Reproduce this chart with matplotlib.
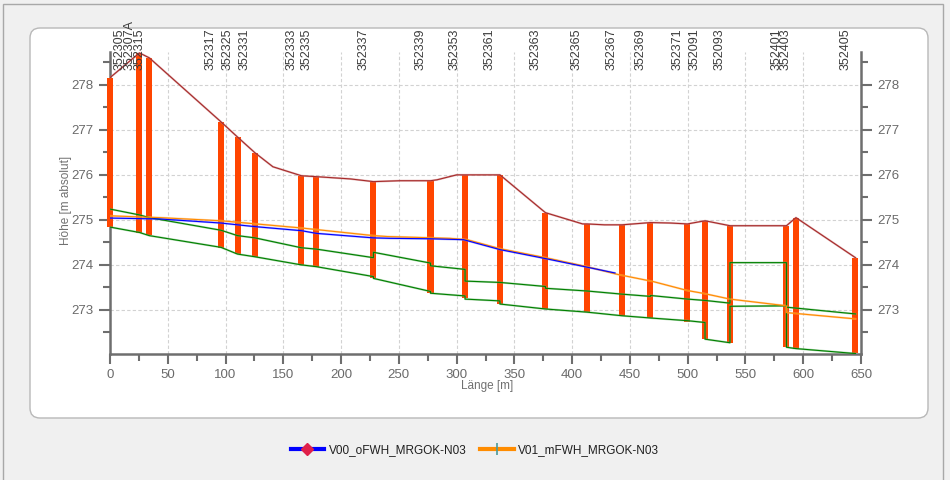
import matplotlib
matplotlib.use("Agg")
import matplotlib.pyplot as plt
import matplotlib.transforms as mtransforms
from matplotlib.patches import FancyBboxPatch, Rectangle
from matplotlib.lines import Line2D
from matplotlib.ticker import MultipleLocator

plt.rcParams['font.family'] = ['Liberation Sans', 'DejaVu Sans']

# shafts (Schächte): station [m], cover level, bottom level
shaft_names = ['352305', '352307A', '352315', '352317', '352325', '352331', '352333',
               '352335', '352337', '352339', '352353', '352361', '352363', '352365',
               '352367', '352369', '352371', '352091', '352093', '352401', '352403',
               '352405']
shaft_x = [0, 25.5, 34, 96, 110.4, 125.5, 165.7, 178.7, 228, 277.4, 307.3, 337.5,
           376.9, 412.8, 443.1, 467.8, 499.8, 515, 536.6, 585.5, 593.7, 645.2]
shaft_top = [278.16, 278.71, 278.6, 277.18, 276.84, 276.49, 275.98, 275.96, 275.85,
             275.87, 276.0, 276.0, 275.16, 274.91, 274.89, 274.93, 274.91, 274.98,
             274.87, 274.87, 275.04, 274.16]
shaft_bot = [274.84, 274.71, 274.67, 274.38, 274.24, 274.18, 274.0, 273.96, 273.71,
             273.38, 273.27, 273.13, 273.02, 272.96, 272.87, 272.82, 272.73, 272.36,
             272.27, 272.18, 272.13, 272.04]

# terrain
ground_x = [0, 25.5, 34, 96, 110.4, 125.5, 141, 165.7, 178.7, 208, 228, 251, 277.4,
            283, 300, 337.5, 376.9, 409, 412.8, 428, 443.1, 467.8, 485, 499.8, 515,
            536.6, 585.5, 593.7, 645.2]
ground_y = [278.16, 278.71, 278.6, 277.18, 276.84, 276.49, 276.18, 275.98, 275.96,
            275.91, 275.85, 275.87, 275.87, 275.89, 276.0, 276.0, 275.16, 274.91,
            274.91, 274.89, 274.89, 274.94, 274.93, 274.91, 274.98, 274.87, 274.87,
            275.05, 274.16]

# pipe crown / invert
crown_x = [0, 25.5, 34, 96, 110.4, 125.5, 165.7, 178.7, 228, 228, 277.4, 277.4, 307.3,
           307.3, 337.5, 376.9, 376.9, 412.8, 443.1, 467.8, 467.8, 499.8, 515, 536.6,
           536.6, 585.5, 585.5, 593.7, 645.2]
crown_y = [275.24, 275.11, 275.05, 274.77, 274.65, 274.6, 274.38, 274.35, 274.16,
           274.28, 274.04, 273.98, 273.9, 273.64, 273.61, 273.52, 273.48, 273.42,
           273.35, 273.3, 273.32, 273.24, 273.21, 273.15, 274.05, 274.05, 273.06,
           273.04, 272.91]
invert_x = [0, 25.5, 34, 96, 110.4, 125.5, 165.7, 178.7, 228, 228, 277.4, 277.4, 307.3,
            307.3, 337.5, 337.5, 376.9, 412.8, 443.1, 467.8, 499.8, 515, 515, 536.6,
            536.6, 585.5, 585.5, 593.7, 645.2]
invert_y = [274.84, 274.72, 274.65, 274.39, 274.24, 274.18, 274.0, 273.96, 273.74,
            273.7, 273.41, 273.37, 273.31, 273.24, 273.2, 273.13, 273.02, 272.95,
            272.87, 272.82, 272.76, 272.72, 272.35, 272.27, 273.08, 273.09, 272.17,
            272.14, 272.03]

# water levels
v00_x = [0, 43, 96, 110.4, 125.5, 165.7, 178.7, 228, 242, 277.4, 306, 337.5, 376.9,
         412.8, 437]
v00_y = [275.04, 275.02, 274.93, 274.89, 274.85, 274.76, 274.7, 274.6, 274.59, 274.58,
         274.56, 274.34, 274.14, 273.95, 273.82]
v01_x = [0, 43, 96, 165.7, 228, 240, 294, 309, 337.5, 376.9, 412.8, 439, 470, 476,
         499.8, 513, 536.6, 585.5, 585.5, 645.2]
v01_y = [275.09, 275.05, 274.98, 274.82, 274.65, 274.63, 274.59, 274.56, 274.36,
         274.16, 273.96, 273.79, 273.63, 273.59, 273.43, 273.37, 273.24, 273.09,
         272.94, 272.8]

fig = plt.figure(figsize=(9.5, 4.8), dpi=100, facecolor='#f0f0f0')
px = mtransforms.IdentityTransform()
fig.patches.append(Rectangle((3, -5), 940, 481, transform=px, fill=False,
                             edgecolor='#a8a8a8', lw=1, zorder=-10))
fig.patches.append(FancyBboxPatch((30, 62), 898, 390, transform=px,
                                  boxstyle='round,pad=0,rounding_size=10',
                                  facecolor='white', edgecolor='#b8b8b8', lw=1,
                                  zorder=-9))

ax = fig.add_axes([110 / 950, 126 / 480, 751 / 950, 302 / 480])
ax.set_facecolor('white')
ax.set_xlim(0, 650)
ax.set_ylim(272.02, 278.73)
ax.xaxis.set_major_locator(MultipleLocator(50))
ax.xaxis.set_minor_locator(MultipleLocator(25))
ax.yaxis.set_major_locator(MultipleLocator(1))
ax.yaxis.set_minor_locator(MultipleLocator(0.5))
ax.grid(True, which='major', color='#d2d2d2', lw=0.8, ls=(0, (3, 2)), zorder=0)
ax.set_axisbelow(True)

for s in ['left', 'right', 'bottom']:
    ax.spines[s].set_color('#6e6e6e')
    ax.spines[s].set_linewidth(1.8)
ax.spines['top'].set_visible(False)
ax.tick_params(axis='y', which='both', left=True, right=True, labelleft=True,
               labelright=True, direction='out', color='#6e6e6e', width=1.5,
               labelcolor='#6a6a6a', labelsize=9.5)
ax.tick_params(axis='y', which='major', length=8, pad=4)
ax.tick_params(axis='y', which='minor', length=5)
ax.tick_params(axis='x', which='both', direction='out', color='#6e6e6e', width=1.5,
               labelcolor='#6a6a6a', labelsize=9.5)
ax.tick_params(axis='x', which='major', length=7, pad=4)
ax.tick_params(axis='x', which='minor', length=5)

heights = [t - b for t, b in zip(shaft_top, shaft_bot)]
ax.bar(shaft_x, heights, bottom=shaft_bot, width=5.2, color='#ff4500', lw=0,
       zorder=3, clip_on=False)


def line(xs, ys, color, light):
    ax.plot(xs, ys, color=light, lw=1.5, alpha=0.55, zorder=4)
    ax.plot(xs, ys, color=color, lw=0.8, zorder=5)


line(ground_x, ground_y, '#a52a2a', '#d08080')
line(crown_x, crown_y, '#008000', '#70b870')
line(invert_x, invert_y, '#008000', '#70b870')
line(v01_x, v01_y, '#ff8c00', '#ffb060')
line(v00_x, v00_y, '#0000ff', '#7070ff')

# shaft names above the plot
base = mtransforms.blended_transform_factory(ax.transData, fig.transFigure)
for name, x in zip(shaft_names, shaft_x):
    dx = 10 if x < 10 else -10
    tr = mtransforms.offset_copy(base, fig=fig, x=dx, y=0, units='dots')
    ax.text(x, 1 - 70 / 480, name, rotation=90, ha='center', va='bottom',
            transform=tr, fontsize=9, color='#3c3c3c', clip_on=False, zorder=6)

fig.text(66 / 950, 1 - 200 / 480, 'Höhe [m absolut]', rotation=90, ha='center',
         va='center', fontsize=8.5, color='#707070')
fig.text(487 / 950, 1 - 386 / 480, 'Länge [m]', ha='center', va='center',
         fontsize=8.5, color='#707070')

handles = [
    Line2D([], [], color='#0000ff', lw=3, marker='D', markersize=6,
           markerfacecolor='#e0204a', markeredgecolor='#e0204a'),
    Line2D([], [], color='#ff8c00', lw=3, marker='|', markersize=8,
           markeredgecolor='#4a9a9a', markeredgewidth=1.2),
]
fig.legend(handles, ['V00_oFWH_MRGOK-N03', 'V01_mFWH_MRGOK-N03'], loc='center',
           bbox_to_anchor=(0.5, 30 / 480), ncol=2, frameon=False, fontsize=8.5,
           handlelength=2.8, handletextpad=0.4, columnspacing=1.2,
           labelcolor='#202020')

fig.savefig('out.png', dpi=100, facecolor=fig.get_facecolor())
